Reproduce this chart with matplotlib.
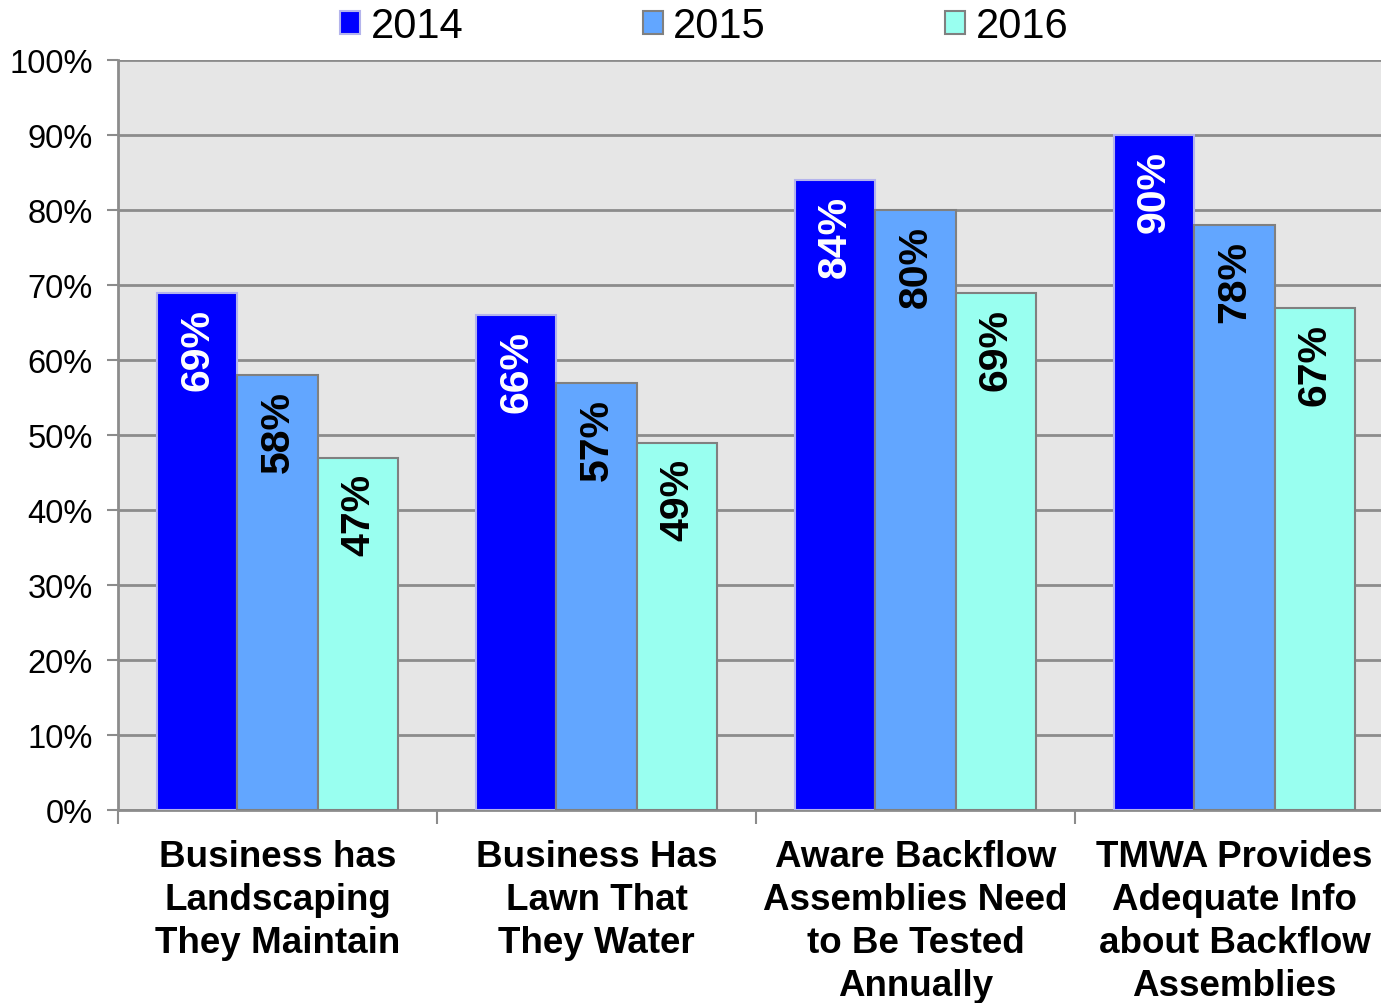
import matplotlib.pyplot as plt
import numpy as np
from matplotlib.patches import Patch

plt.rcParams['font.family'] = ['Liberation Sans', 'DejaVu Sans']

categories = ["Business has\nLandscaping\nThey Maintain",
              "Business Has\nLawn That\nThey Water",
              "Aware Backflow\nAssemblies Need\nto Be Tested\nAnnually",
              "TMWA Provides\nAdequate Info\nabout Backflow\nAssemblies"]
years = ["2014", "2015", "2016"]
v2014 = [69, 66, 84, 90]
v2015 = [58, 57, 80, 78]
v2016 = [47, 49, 69, 67]
yticks = [0, 10, 20, 30, 40, 50, 60, 70, 80, 90, 100]

colors = ["#0000FF", "#62A6FF", "#99FFF0"]
edges = ["#B4B4EC", "#808080", "#808080"]
label_colors = ["white", "black", "black"]

fig = plt.figure(figsize=(13.81, 10.04), dpi=100)
ax = fig.add_axes([118 / 1381, 1 - 811 / 1004, 1276 / 1381, 750 / 1004])
ax.set_facecolor("#E6E6E6")

x = np.arange(len(categories))
w = 0.252
for i, vals in enumerate([v2014, v2015, v2016]):
    pos = x + (i - 1) * w
    ax.bar(pos, vals, width=w, color=colors[i], edgecolor=edges[i],
           linewidth=1.5, zorder=3)
    for p, v in zip(pos, vals):
        ax.annotate(f"{v}%", (p, v), xytext=(0, -11), textcoords="offset points",
                    rotation=90, ha="center", va="top", fontsize=29.5,
                    fontweight="bold", color=label_colors[i], zorder=4)

ax.set_xlim(-0.5, 3.5)
ax.set_ylim(0, 100)
ax.set_yticks(yticks)
ax.set_yticklabels([f"{t}%" for t in yticks], fontsize=23.5)
ax.yaxis.grid(True, color="#8C8C8C", linewidth=2, zorder=0)
ax.set_axisbelow(True)

ax.set_xticks(x)
ax.set_xticklabels(categories, fontsize=26.5, fontweight="bold", linespacing=1.3,
                   va="top")
ax.set_xticks(np.arange(-0.5, 4, 1), minor=True)
ax.tick_params(axis="x", which="major", length=0, pad=21)
ax.tick_params(axis="x", which="minor", length=10, width=1.5, color="#8C8C8C")
ax.tick_params(axis="y", length=8, width=1.5, color="#8C8C8C", pad=10)

for s in ["top", "right"]:
    ax.spines[s].set_visible(False)
for s in ["left", "bottom"]:
    ax.spines[s].set_color("#8C8C8C")
    ax.spines[s].set_linewidth(2)

handles = [Patch(facecolor=colors[i], edgecolor=edges[i], linewidth=1.5)
           for i in range(3)]
fig.legend(handles, years, loc="center", bbox_to_anchor=(0.51, 0.973), ncol=3,
           fontsize=30, frameon=False, handlelength=0.48, handleheight=0.48,
           handletextpad=0.26, columnspacing=4.3, borderpad=0)

fig.savefig("out.png", dpi=100)
